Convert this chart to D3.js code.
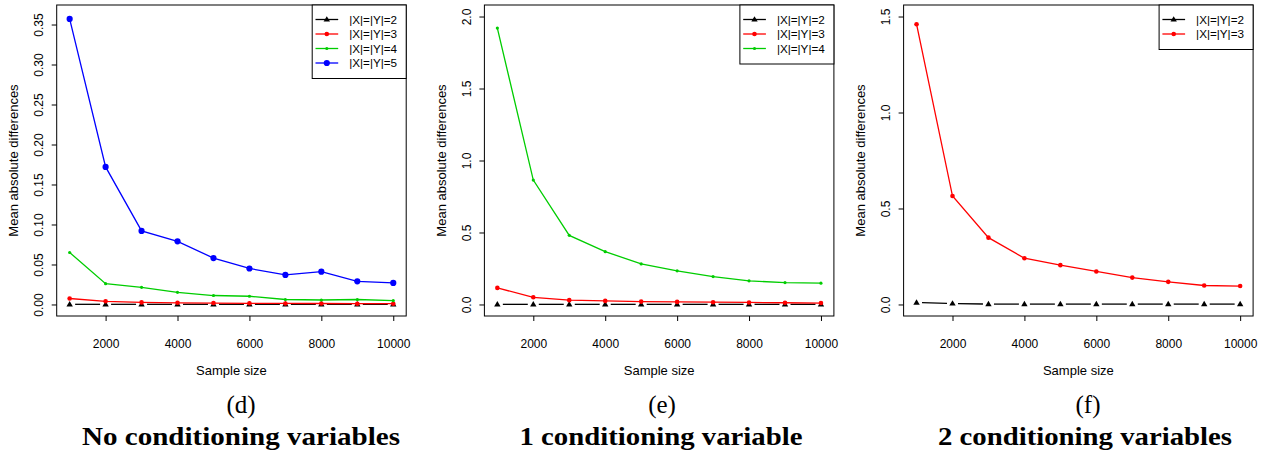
<!DOCTYPE html>
<html>
<head>
<meta charset="utf-8">
<script src="https://cdn.jsdelivr.net/npm/d3@7"></script>
<style>
  html, body { margin: 0; padding: 0; background: #fff; }
  svg { display: block; }
</style>
</head>
<body>
<svg id="chart" width="1262" height="453"></svg>
<script>
// ---------------- DATA ----------------
const sampleSizes = [1000, 2000, 3000, 4000, 5000, 6000, 7000, 8000, 9000, 10000];
const seriesLabels = ["|X|=|Y|=2", "|X|=|Y|=3", "|X|=|Y|=4", "|X|=|Y|=5"];

// (d) No conditioning variables
const panelD_k2 = [0.0002, 0.0002, 0.0002, 0.0002, 0.0002, 0.0002, 0.0002, 0.0002, 0.0002, 0.0002];
const panelD_k3 = [0.0075, 0.0040, 0.0026, 0.0021, 0.0018, 0.0015, 0.0013, 0.0012, 0.0010, 0.0010];
const panelD_k4 = [0.065, 0.026, 0.0215, 0.0152, 0.0112, 0.0103, 0.0062, 0.0056, 0.0062, 0.0048];
const panelD_k5 = [0.357, 0.172, 0.092, 0.079, 0.058, 0.045, 0.037, 0.041, 0.029, 0.027];

// (e) 1 conditioning variable
const panelE_k2 = [0.001, 0.001, 0.001, 0.001, 0.001, 0.001, 0.001, 0.001, 0.001, 0.001];
const panelE_k3 = [0.115, 0.050, 0.030, 0.025, 0.020, 0.018, 0.016, 0.014, 0.012, 0.010];
const panelE_k4 = [1.92, 0.864, 0.480, 0.367, 0.282, 0.234, 0.194, 0.164, 0.152, 0.148];

// (f) 2 conditioning variables
const panelF_k2 = [0.010, 0.005, 0.002, 0.002, 0.002, 0.002, 0.002, 0.002, 0.002, 0.002];
const panelF_k3 = [1.460, 0.565, 0.348, 0.241, 0.205, 0.172, 0.140, 0.118, 0.099, 0.096];

// tick labels / limits
const xTicks = [2000, 4000, 6000, 8000, 10000];
const yTicksD = [0, 0.05, 0.10, 0.15, 0.20, 0.25, 0.30, 0.35];
const yTicksE = [0, 0.5, 1.0, 1.5, 2.0];
const yTicksF = [0, 0.5, 1.0, 1.5];
const yLimD = [0, 0.36];
const yLimE = [0, 2];
const yLimF = [0, 1.5];

const subLabels = ["(d)", "(e)", "(f)"];
const captions = ["No conditioning variables", "1 conditioning variable", "2 conditioning variables"];
const xTitle = "Sample size";
const yTitle = "Mean absolute differences";

// ---------------- STYLE ----------------
const seriesStyle = [
  { color: "#000000", marker: "triangle", size: 3.2, gapped: true },
  { color: "#FF0000", marker: "circle", size: 2.3, gapped: false },
  { color: "#00CD00", marker: "circle", size: 1.6, gapped: false },
  { color: "#0000FF", marker: "circle", size: 3.1, gapped: false }
];

const panels = [
  { left: 56.7, series: [panelD_k2, panelD_k3, panelD_k4, panelD_k5], yTicks: yTicksD, yLim: yLimD, fmt: d3.format(".2f"),
    capX: 241, capW: 318, subX: 241 },
  { left: 484.4, series: [panelE_k2, panelE_k3, panelE_k4], yTicks: yTicksE, yLim: yLimE, fmt: d3.format(".1f"),
    capX: 661, capW: 283, subX: 662 },
  { left: 903.6, series: [panelF_k2, panelF_k3], yTicks: yTicksF, yLim: yLimF, fmt: d3.format(".1f"),
    capX: 1085, capW: 294, subX: 1088 }
];
const plotW = 349.5, plotTop = 5, plotBottom = 316;
const sans = "'Liberation Sans', Arial, Helvetica, sans-serif";
const serif = "'Liberation Serif', 'Times New Roman', serif";

const svg = d3.select("#chart");

function drawMarker(g, type, cx, cy, r, color) {
  if (type === "triangle") {
    const h = r * 1.7;
    g.append("path")
      .attr("d", `M${cx},${cy - h * 0.62}L${cx + r},${cy + h * 0.38}L${cx - r},${cy + h * 0.38}Z`)
      .attr("fill", color);
  } else {
    g.append("circle").attr("cx", cx).attr("cy", cy).attr("r", r).attr("fill", color);
  }
}

panels.forEach((p, pi) => {
  const g = svg.append("g");
  const xPad = (sampleSizes[sampleSizes.length - 1] - sampleSizes[0]) * 0.04;
  const x = d3.scaleLinear()
    .domain([sampleSizes[0] - xPad, sampleSizes[sampleSizes.length - 1] + xPad])
    .range([p.left, p.left + plotW]);
  const yPad = (p.yLim[1] - p.yLim[0]) * 0.04;
  const y = d3.scaleLinear()
    .domain([p.yLim[0] - yPad, p.yLim[1] + yPad])
    .range([plotBottom, plotTop]);

  // X axis
  const xa = g.append("g")
    .attr("transform", `translate(0,${plotBottom})`)
    .call(d3.axisBottom(x).tickValues(xTicks).tickSize(5).tickFormat(d3.format("d")));
  xa.select(".domain").remove();
  xa.selectAll(".tick line").attr("stroke", "#000");
  xa.selectAll(".tick text")
    .attr("y", 31.8).attr("dy", 0)
    .attr("font-family", sans).attr("font-size", 12).attr("fill", "#000");

  // Y axis
  const ya = g.append("g")
    .attr("transform", `translate(${p.left},0)`)
    .call(d3.axisLeft(y).tickValues(p.yTicks).tickSize(5).tickFormat(p.fmt));
  ya.select(".domain").remove();
  ya.selectAll(".tick line").attr("stroke", "#000");
  ya.selectAll(".tick text")
    .attr("transform", "rotate(-90)")
    .attr("x", 0).attr("y", -13.4).attr("dy", 0)
    .attr("text-anchor", "middle")
    .attr("font-family", sans).attr("font-size", 12).attr("fill", "#000");

  // Box
  g.append("rect")
    .attr("x", p.left).attr("y", plotTop)
    .attr("width", plotW).attr("height", plotBottom - plotTop)
    .attr("fill", "none").attr("stroke", "#000").attr("stroke-width", 1);

  // Axis titles
  g.append("text")
    .attr("x", p.left + plotW / 2).attr("y", 375)
    .attr("text-anchor", "middle")
    .attr("font-family", sans).attr("font-size", 13)
    .text(xTitle);
  g.append("text")
    .attr("transform", `translate(${p.left - 38.4},${(plotTop + plotBottom) / 2}) rotate(-90)`)
    .attr("text-anchor", "middle")
    .attr("font-family", sans).attr("font-size", 13)
    .text(yTitle);

  // Series
  p.series.forEach((vals, si) => {
    const st = seriesStyle[si];
    const pts = vals.map((v, i) => [x(sampleSizes[i]), y(v)]);
    if (st.gapped) {
      const gap = 5.5;
      for (let i = 0; i < pts.length - 1; i++) {
        const [x0, y0] = pts[i], [x1, y1] = pts[i + 1];
        const dx = x1 - x0, dy = y1 - y0, len = Math.hypot(dx, dy);
        const ux = dx / len, uy = dy / len;
        g.append("line")
          .attr("x1", x0 + ux * gap).attr("y1", y0 + uy * gap)
          .attr("x2", x1 - ux * gap).attr("y2", y1 - uy * gap)
          .attr("stroke", st.color).attr("stroke-width", 1.3);
      }
    } else {
      g.append("path")
        .attr("d", d3.line()(pts))
        .attr("fill", "none").attr("stroke", st.color).attr("stroke-width", 1.3);
    }
    pts.forEach(([px, py]) => drawMarker(g, st.marker, px, py, st.size, st.color));
  });

  // Legend
  const n = p.series.length;
  const legW = 94;
  const legX = p.left + plotW - legW;
  const rowH = 14.5;
  const legH = 14.5 + rowH * (n - 1) + 15.5;
  const lg = g.append("g");
  lg.append("rect")
    .attr("x", legX).attr("y", plotTop)
    .attr("width", legW).attr("height", legH)
    .attr("fill", "#fff").attr("stroke", "#000").attr("stroke-width", 1);
  for (let si = 0; si < n; si++) {
    const st = seriesStyle[si];
    const ry = plotTop + 14.5 + si * rowH;
    lg.append("line")
      .attr("x1", legX + 3.3).attr("x2", legX + 26)
      .attr("y1", ry).attr("y2", ry)
      .attr("stroke", st.color).attr("stroke-width", 1.3);
    drawMarker(lg, st.marker, legX + 14.6, ry, st.size, st.color);
    lg.append("text")
      .attr("x", legX + 37).attr("y", ry + 4.2)
      .attr("font-family", sans).attr("font-size", 11.7)
      .text(seriesLabels[si]);
  }

  // Captions
  svg.append("text")
    .attr("x", p.subX).attr("y", 413)
    .attr("text-anchor", "middle")
    .attr("font-family", serif).attr("font-size", 25)
    .text(subLabels[pi]);
  svg.append("text")
    .attr("x", p.capX).attr("y", 445)
    .attr("text-anchor", "middle")
    .attr("font-family", serif).attr("font-size", 26).attr("font-weight", "bold")
    .attr("textLength", p.capW).attr("lengthAdjust", "spacingAndGlyphs")
    .text(captions[pi]);
});
</script>
</body>
</html>
